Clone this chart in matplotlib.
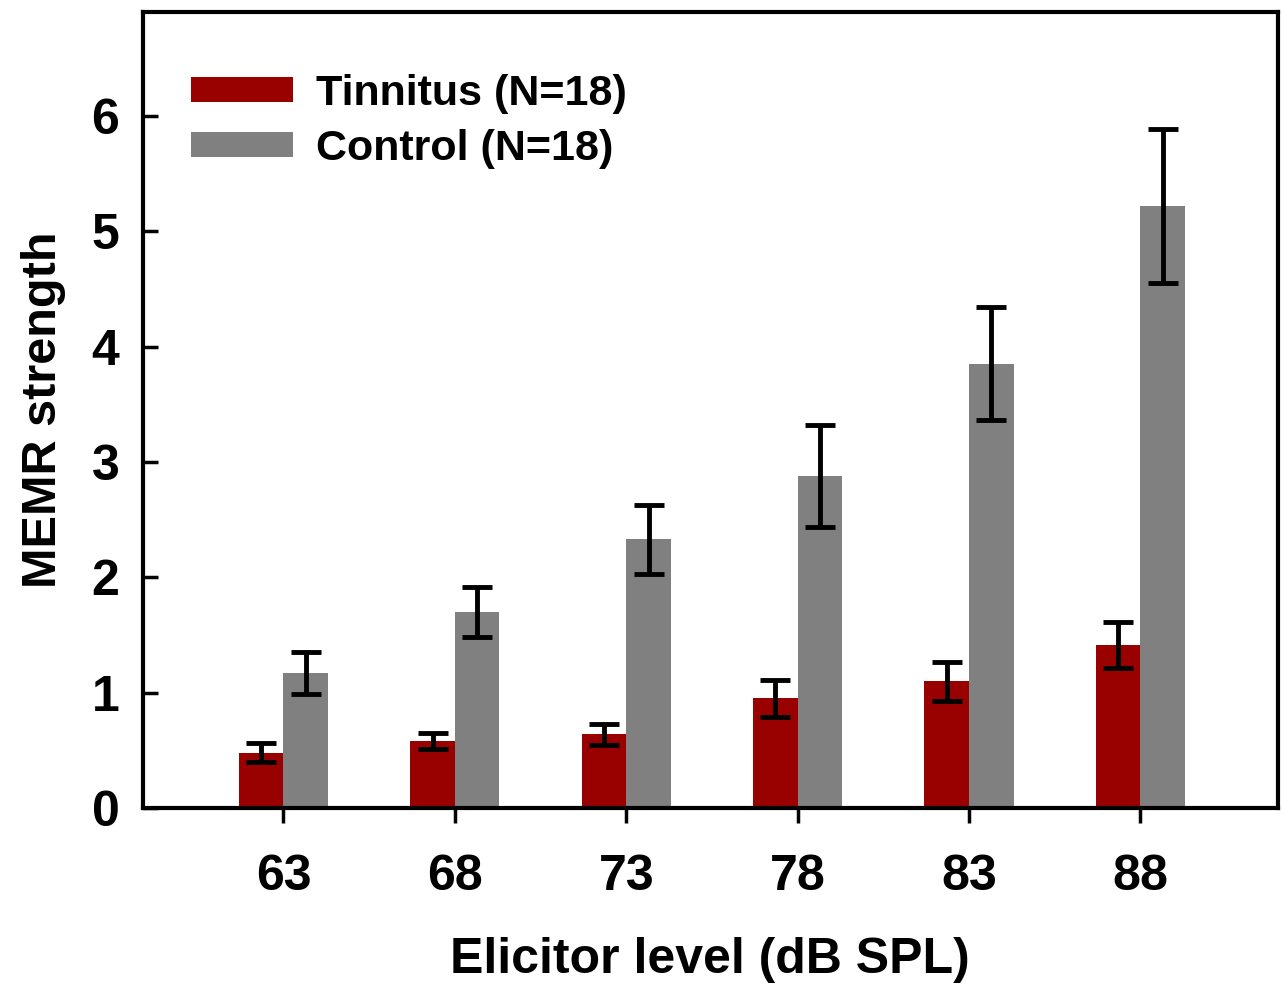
import numpy as np
import matplotlib
matplotlib.use("Agg")
import matplotlib.pyplot as plt

plt.rcParams['font.family'] = ['Liberation Sans', 'DejaVu Sans']
plt.rcParams['font.weight'] = 'bold'

levels = ["63", "68", "73", "78", "83", "88"]
tinnitus_mean = [0.48, 0.58, 0.64, 0.95, 1.10, 1.41]
tinnitus_err = [0.08, 0.07, 0.09, 0.16, 0.17, 0.20]
control_mean = [1.17, 1.70, 2.33, 2.88, 3.85, 5.22]
control_err = [0.18, 0.22, 0.30, 0.44, 0.49, 0.67]

fig = plt.figure(figsize=(12.82, 9.85), dpi=100)
ax = fig.add_axes([0.1115, 0.1797, 0.885, 0.808])

x = np.arange(len(levels))
width = 0.26
err_kw = dict(ecolor='black', elinewidth=3.5, capsize=11, capthick=3.5)
ax.bar(x - width / 2, tinnitus_mean, width, yerr=tinnitus_err, color='#990000',
       label='Tinnitus (N=18)', error_kw=err_kw)
ax.bar(x + width / 2, control_mean, width, yerr=control_err, color='#808080',
       label='Control (N=18)', error_kw=err_kw)

ax.set_xlim(-0.82, 5.80)
ax.set_ylim(0, 6.9)
ax.set_xticks(x)
ax.set_xticklabels(levels)
ax.set_yticks(range(7))

for side in ax.spines.values():
    side.set_linewidth(3)

ax.tick_params(axis='x', direction='out', length=11, width=2.5, pad=22, labelsize=36)
ax.tick_params(axis='y', direction='in', length=11, width=2.5, pad=17, labelsize=36)

ax.set_xlabel('Elicitor level (dB SPL)', fontsize=36, fontweight='bold', labelpad=27)
ax.set_ylabel('MEMR strength', fontsize=35, fontweight='bold', labelpad=18)

ax.legend(loc='upper left', bbox_to_anchor=(0.008, 0.971), frameon=False, fontsize=31,
          handlelength=2.37, handleheight=0.5, handletextpad=0.55, labelspacing=0.34)

plt.savefig('out.png', dpi=100)
